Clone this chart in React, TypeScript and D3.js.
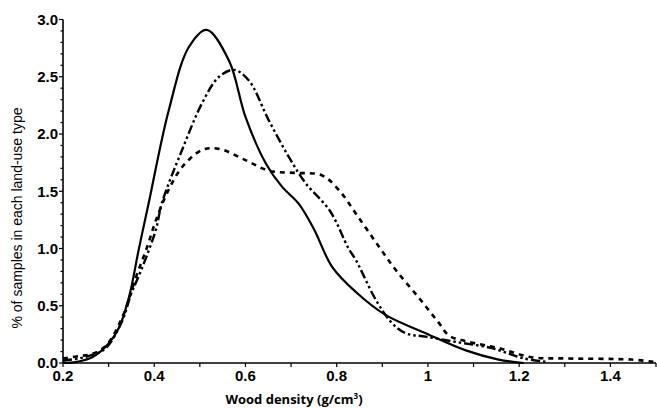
import React, { useEffect, useRef } from 'react';
import * as d3 from 'd3';

// density curves (x = wood density, y = % of samples)
const solidX = [0.2, 0.23, 0.264, 0.3, 0.323, 0.345, 0.366, 0.388, 0.432, 0.476, 0.515, 0.564, 0.6, 0.645, 0.68, 0.717, 0.75, 0.79, 0.842, 0.907, 0.995, 1.083, 1.155, 1.21];
const solidY = [0.0, 0.01, 0.05, 0.17, 0.31, 0.58, 0.99, 1.4, 2.21, 2.76, 2.91, 2.64, 2.15, 1.74, 1.54, 1.39, 1.17, 0.84, 0.62, 0.42, 0.26, 0.11, 0.03, 0.0];

const dashDotX = [0.2, 0.235, 0.264, 0.294, 0.33, 0.349, 0.366, 0.384, 0.404, 0.417, 0.461, 0.505, 0.542, 0.575, 0.607, 0.651, 0.695, 0.732, 0.785, 0.826, 0.842, 0.886, 0.921, 0.951, 0.995, 1.067, 1.14, 1.21, 1.26];
const dashDotY = [0.02, 0.04, 0.07, 0.13, 0.37, 0.6, 0.76, 0.94, 1.17, 1.4, 1.86, 2.27, 2.5, 2.56, 2.47, 2.12, 1.8, 1.57, 1.33, 1.0, 0.9, 0.55, 0.35, 0.26, 0.23, 0.18, 0.13, 0.04, 0.01];

const dottedX = [0.2, 0.235, 0.264, 0.294, 0.33, 0.36, 0.385, 0.404, 0.43, 0.461, 0.505, 0.542, 0.601, 0.651, 0.71, 0.767, 0.805, 0.848, 0.892, 0.93, 0.98, 1.024, 1.046, 1.083, 1.155, 1.227, 1.3, 1.446, 1.495];
const dottedY = [0.04, 0.06, 0.08, 0.15, 0.4, 0.75, 1.02, 1.25, 1.5, 1.71, 1.86, 1.87, 1.77, 1.68, 1.66, 1.64, 1.51, 1.27, 1.02, 0.81, 0.57, 0.35, 0.24, 0.19, 0.13, 0.05, 0.04, 0.03, 0.01];

const xTickValues = [0.2, 0.4, 0.6, 0.8, 1.0, 1.2, 1.4];
const xTickLabels = ['0.2', '0.4', '0.6', '0.8', '1', '1.2', '1.4'];
const yTickValues = [0, 0.5, 1, 1.5, 2, 2.5, 3];
const yTickLabels = ['0.0', '0.5', '1.0', '1.5', '2.0', '2.5', '3.0'];

const W = 657;
const H = 408;

const App = () => {
  const svgRef = useRef(null);

  useEffect(() => {
    const svg = d3.select(svgRef.current);
    svg.selectAll('*').remove();

    const x = d3.scaleLinear().domain([0.2, 1.5]).range([63, 656]);
    const y = d3.scaleLinear().domain([0, 3]).range([363, 19.5]);

    const tickFont = 'Liberation Sans Narrow, Liberation Sans, Arial, sans-serif';

    // y axis
    const yAxis = svg.append('g').attr('transform', `translate(${x(0.2)},0)`);
    yAxis.append('line')
      .attr('x1', 0).attr('x2', 0)
      .attr('y1', y(3)).attr('y2', y(0))
      .attr('stroke', '#000').attr('stroke-width', 1.6);
    yAxis.selectAll('.minor')
      .data(d3.range(0, 31).map(d => d / 10))
      .join('line')
      .attr('x1', 0).attr('x2', (d, i) => (i % 5 === 0 ? -4 : -2.5))
      .attr('y1', d => y(d)).attr('y2', d => y(d))
      .attr('stroke', '#000').attr('stroke-width', 1.2);
    yAxis.selectAll('.lbl')
      .data(yTickValues)
      .join('text')
      .attr('x', -5)
      .attr('y', d => y(d))
      .attr('dy', '0.36em')
      .attr('text-anchor', 'end')
      .attr('font-family', tickFont)
      .attr('font-weight', 'bold')
      .attr('font-size', 15)
      .text((d, i) => yTickLabels[i]);

    // x axis
    const xAxis = svg.append('g').attr('transform', `translate(0,${y(0)})`);
    xAxis.append('line')
      .attr('x1', x(0.2)).attr('x2', x(1.5))
      .attr('y1', 0).attr('y2', 0)
      .attr('stroke', '#000').attr('stroke-width', 1.6);
    xAxis.selectAll('.minor')
      .data(d3.range(2, 16).map(d => d / 10))
      .join('line')
      .attr('x1', d => x(d)).attr('x2', d => x(d))
      .attr('y1', 0).attr('y2', 4)
      .attr('stroke', '#000').attr('stroke-width', 1.2);
    xAxis.selectAll('.lbl')
      .data(xTickValues)
      .join('text')
      .attr('x', d => x(d))
      .attr('y', 18)
      .attr('text-anchor', 'middle')
      .attr('font-family', tickFont)
      .attr('font-weight', 'bold')
      .attr('font-size', 15)
      .text((d, i) => xTickLabels[i]);

    // axis titles
    svg.append('text')
      .attr('transform', `translate(22,${218}) rotate(-90)`)
      .attr('text-anchor', 'middle')
      .attr('font-family', 'Liberation Sans Narrow, Liberation Sans, Arial, sans-serif')
      .attr('font-size', 14)
      .attr('textLength', 221)
      .attr('lengthAdjust', 'spacingAndGlyphs')
      .text('% of samples in each land-use type');

    const xt = svg.append('text')
      .attr('x', 294)
      .attr('y', 404)
      .attr('text-anchor', 'middle')
      .attr('font-family', 'Open Sans, Liberation Sans, sans-serif')
      .attr('font-weight', 'bold')
      .attr('font-size', 13);
    xt.append('tspan').text('Wood density (g/cm');
    xt.append('tspan').attr('font-size', 8).attr('dy', -5).text('3');
    xt.append('tspan').attr('dy', 5).text(')');

    const line = d3.line<[number, number]>()
      .x(d => x(d[0]))
      .y(d => y(d[1]))
      .curve(d3.curveCatmullRom.alpha(0.5));

    const series = [
      { xs: dottedX, ys: dottedY, dash: '5,5', width: 2.6 },
      { xs: dashDotX, ys: dashDotY, dash: '9,3,2.5,3,2.5,3', width: 2.4 },
      { xs: solidX, ys: solidY, dash: null, width: 2.2 },
    ];

    series.forEach(s => {
      const pts = s.xs.map((v, i) => [v, s.ys[i]] as [number, number]);
      svg.append('path')
        .datum(pts)
        .attr('d', line)
        .attr('fill', 'none')
        .attr('stroke', '#000')
        .attr('stroke-width', s.width)
        .attr('stroke-dasharray', s.dash)
        .attr('stroke-linejoin', 'round');
    });
  }, []);

  return (
    <div style={{ position: 'absolute', left: 0, top: 0, width: W, height: H, background: '#fff' }}>
      <svg ref={svgRef} width={W} height={H} style={{ display: 'block' }} />
    </div>
  );
};

export default App;
